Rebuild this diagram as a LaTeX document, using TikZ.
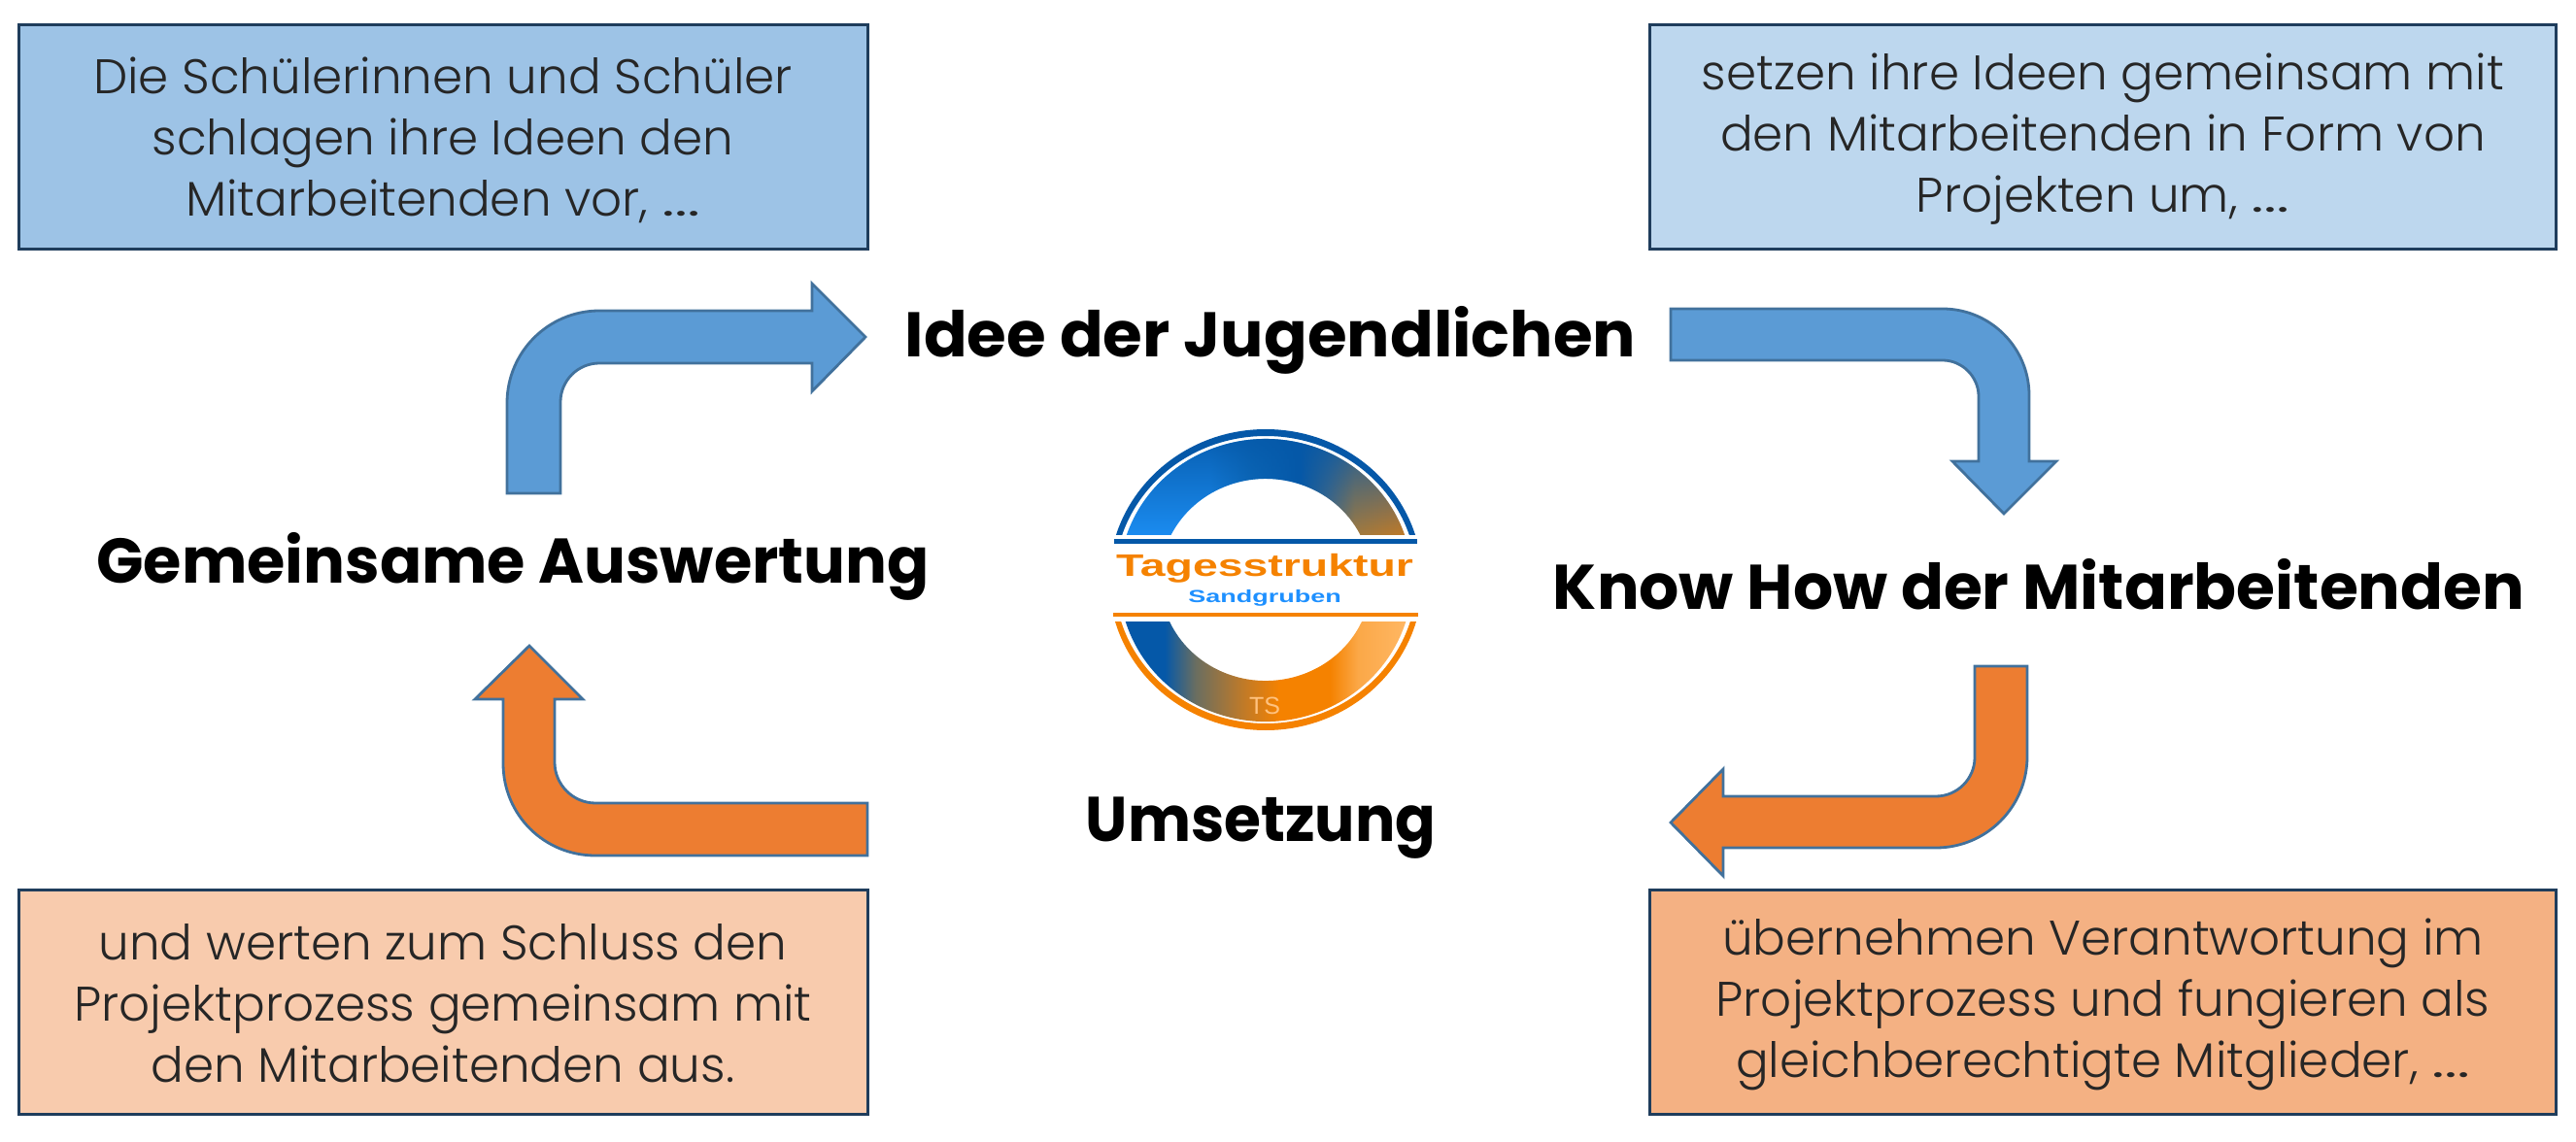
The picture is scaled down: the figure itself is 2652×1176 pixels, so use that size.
\documentclass[tikz,border=0pt]{standalone}
\usepackage{fontspec}
\usepackage{graphicx}
\usetikzlibrary{fadings}
\setmainfont{Poppins Light}[BoldFont={Poppins Bold}]
\newfontfamily\logofont{Liberation Sans}
\newcommand{\wdots}{\scalebox{1.5}[1]{…}}
\definecolor{blfill}{HTML}{5B9BD5}
\definecolor{orfill}{HTML}{ED7D31}
\definecolor{arline}{HTML}{41719C}
\definecolor{boxline}{HTML}{1F3D5C}
\definecolor{bodytext}{HTML}{262626}
\definecolor{logoblue}{HTML}{0558A8}
\definecolor{logoor}{HTML}{F58200}
\definecolor{boxa}{HTML}{9DC3E6}
\definecolor{boxb}{HTML}{BDD7EE}
\definecolor{boxc}{HTML}{F8CBAD}
\definecolor{boxd}{HTML}{F4B183}
\definecolor{sa}{HTML}{1B8CF0}
\definecolor{sb}{HTML}{1070C0}
\definecolor{sc}{HTML}{4A6A80}
\definecolor{sd}{HTML}{A07A40}
\definecolor{se}{HTML}{C07A28}
\definecolor{sg}{HTML}{6A6E60}
\definecolor{sh}{HTML}{FBA848}
\definecolor{si}{HTML}{FFB763}
\definecolor{sandblue}{HTML}{1E90FF}
\definecolor{tscol}{HTML}{FFC27F}
\pgfdeclarehorizontalshading{topband}{100bp}{
 color(0bp)=(sa); color(40bp)=(sa); color(47.5bp)=(sb); color(56bp)=(logoblue);
 color(61bp)=(sc); color(66bp)=(sd); color(75bp)=(se); color(100bp)=(se)}
\pgfdeclarehorizontalshading{botband}{100bp}{
 color(0bp)=(logoblue); color(32bp)=(logoblue); color(37.5bp)=(sg); color(46bp)=(se);
 color(52.5bp)=(logoor); color(61.5bp)=(logoor); color(66.5bp)=(sh); color(75bp)=(si); color(100bp)=(si)}
\tikzset{
 txtbox/.style={draw=boxline,line width=1.5pt,inner sep=0pt,minimum width=437pt,minimum height=115.5pt},
 boxtext/.style={inner sep=0pt,align=center,text=bodytext,font=\fontsize{25}{31.5}\selectfont},
 blockblue/.style={draw=arline,line width=1.4pt,fill=blfill,line join=miter},
 blockor/.style={draw=arline,line width=1.4pt,fill=orfill,line join=miter},
 steplabel/.style={font=\bfseries\fontsize{32.5}{36}\selectfont,text=black,anchor=base,transform shape},
}
\begin{document}
\begin{tikzpicture}[x=0.5pt,y=-0.5pt]
\useasboundingbox (0,0) rectangle (2652,1176);
% text boxes
\node[txtbox,fill=boxa] (tl) at (456,141) {};
\node[txtbox,fill=boxb,minimum width=466.5pt] (tr) at (2165,141) {};
\node[txtbox,fill=boxc] (bl) at (456,1032) {};
\node[txtbox,fill=boxd,minimum width=466.5pt] (br) at (2165,1032) {};
\node[boxtext] (tlt) at (456,144) {Die Schülerinnen und Schüler\\schlagen ihre Ideen den\\Mitarbeitenden vor, \wdots};
\node[boxtext] (trt) at (2165,143) {setzen ihre Ideen gemeinsam mit\\den Mitarbeitenden in Form von\\Projekten um, \wdots};
\node[boxtext] (blt) at (456,1033) {und werten zum Schluss den\\Projektprozess gemeinsam mit\\den Mitarbeitenden aus.};
\node[boxtext] (brt) at (2165,1034) {übernehmen Verantwortung im\\Projektprozess und fungieren als\\gleichberechtigte Mitglieder, \wdots};
% block arrows
\draw[blockblue] (522,508) -- (522,415) .. controls (522,362.5) and (564.5,320) .. (617,320) -- (836,320) -- (836,292) -- (891,347) -- (836,403) -- (836,374) -- (617,374) .. controls (595,374) and (577,392) .. (577,414) -- (577,508) -- cycle;
\draw[blockblue] (1720,318) -- (2000,318) .. controls (2049,318) and (2089,358) .. (2089,407) -- (2089,475) -- (2117,475) -- (2063,529) -- (2010,475) -- (2037,475) -- (2037,408) .. controls (2037,388) and (2020,371) .. (2000,371) -- (1720,371) -- cycle;
\draw[blockor] (2033,686) -- (2087,686) -- (2087,779) .. controls (2087,831) and (2045,873) .. (1993,873) -- (1774,873) -- (1774,902) -- (1720,847) -- (1774,792) -- (1774,820) -- (1993,820) .. controls (2015,820) and (2033,802) .. (2033,780) -- cycle;
\draw[blockor] (893,827) -- (613,827) .. controls (590,827) and (571,808) .. (571,785) -- (571,720) -- (600,720) -- (545,665) -- (489,720) -- (518,720) -- (518,786) .. controls (518,839.5) and (560.5,881) .. (613,881) -- (893,881) -- cycle;
% step labels
\node[steplabel,xscale=1.015] (idee) at (1308,368) {Idee der Jugendlichen};
\node[steplabel,xscale=0.996] (know) at (2099,627) {Know How der Mitarbeitenden};
\node[steplabel,xscale=0.945] (ums) at (1298,866) {Umsetzung};
\node[steplabel,xscale=0.98] (gem) at (528,601) {Gemeinsame Auswertung};
% logo
\begin{scope}
 \clip (1140,440) rectangle (1466,551);
 \fill[logoblue,even odd rule] (1303,597) ellipse [x radius=161.3,y radius=155] (1303,597) ellipse [x radius=155.5,y radius=148];
\end{scope}
\begin{scope}
 \clip (1140,640) rectangle (1466,756);
 \fill[logoor,even odd rule] (1303,597) ellipse [x radius=161.3,y radius=155] (1303,597) ellipse [x radius=155.5,y radius=148];
\end{scope}
\def\topbandpath{(1159.8,551) arc[start angle=198.5,end angle=341.5,x radius=151,y radius=145] -- (1400.5,551) arc[start angle=333.75,end angle=206.25,x radius=108.7,y radius=104] -- cycle}
\shade[shading=topband] \topbandpath;
\fill[logoblue,path fading=south] \topbandpath;
\shade[shading=botband] (1158.7,640) arc[start angle=162.9,end angle=17.1,x radius=151,y radius=146] -- (1402,640) arc[start angle=24.4,end angle=155.6,x radius=108.7,y radius=104] -- cycle;
\fill[logoblue] (1147,555) rectangle (1459,560);
\fill[logoor] (1146,631) rectangle (1460,635);
\node[anchor=base,inner sep=0pt,xscale=1.45,transform shape,text=logoor,font=\logofont\bfseries\fontsize{16}{18}\selectfont] (tag) at (1302,594) {Tagesstruktur};
\node[anchor=base,inner sep=0pt,xscale=1.5,transform shape,text=sandblue,font=\logofont\bfseries\fontsize{9}{11}\selectfont] (sand) at (1302,620) {Sandgruben};
\node[anchor=base,inner sep=0pt,text=tscol,font=\logofont\fontsize{12.5}{14}\selectfont] (ts) at (1302,735) {TS};
\end{tikzpicture}
\end{document}
